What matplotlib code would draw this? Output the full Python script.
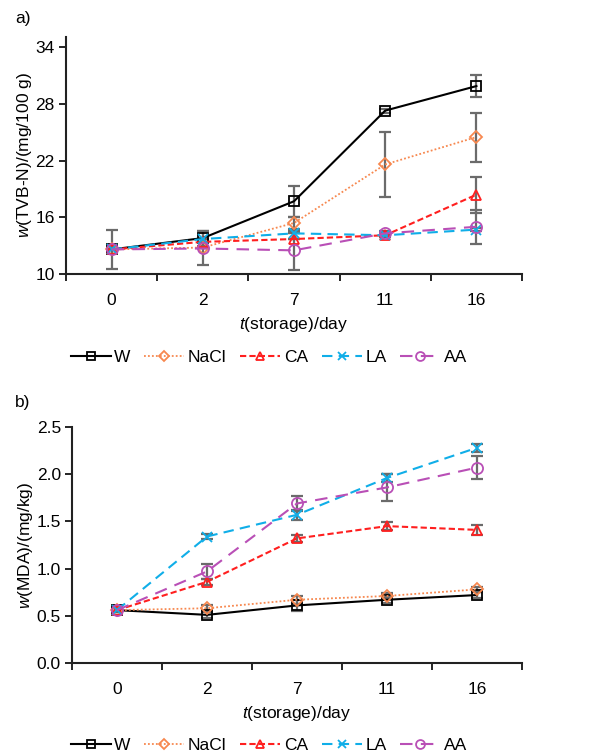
import matplotlib
matplotlib.use("Agg")
import matplotlib.pyplot as plt
import numpy as np

plt.rcParams['font.family'] = ['Liberation Sans', 'DejaVu Sans']
plt.rcParams['mathtext.fontset'] = 'custom'
plt.rcParams['mathtext.rm'] = 'Liberation Sans'
plt.rcParams['mathtext.it'] = 'Liberation Sans:italic'

days = ["0", "2", "7", "11", "16"]
series = ["W", "NaCl", "CA", "LA", "AA"]

# Panel a: TVB-N (mg/100 g)
tvb_W = [12.6, 13.8, 17.7, 27.3, 29.9]
tvb_NaCl = [12.6, 12.8, 15.4, 21.6, 24.5]
tvb_CA = [12.6, 13.4, 13.7, 14.1, 18.4]
tvb_LA = [12.6, 13.7, 14.3, 14.1, 14.7]
tvb_AA = [12.6, 12.7, 12.5, 14.3, 15.0]
tvb_W_err = [2.05, 0.8, 1.65, 0.2, 1.15]
tvb_NaCl_err = [0.0, 0.0, 0.6, 3.4, 2.6]
tvb_CA_err = [0.0, 0.0, 0.0, 0.2, 1.9]
tvb_LA_err = [0.0, 0.0, 0.0, 0.2, 0.2]
tvb_AA_err = [0.0, 1.8, 2.1, 0.2, 1.8]

# Panel b: MDA (mg/kg)
mda_W = [0.56, 0.51, 0.61, 0.67, 0.72]
mda_NaCl = [0.56, 0.58, 0.67, 0.71, 0.78]
mda_CA = [0.56, 0.86, 1.32, 1.45, 1.41]
mda_LA = [0.56, 1.34, 1.57, 1.96, 2.28]
mda_AA = [0.56, 0.97, 1.69, 1.86, 2.07]
mda_W_err = [0.02, 0.03, 0.06, 0.03, 0.03]
mda_NaCl_err = [0.02, 0.03, 0.04, 0.03, 0.03]
mda_CA_err = [0.02, 0.03, 0.04, 0.04, 0.05]
mda_LA_err = [0.02, 0.03, 0.05, 0.04, 0.04]
mda_AA_err = [0.02, 0.08, 0.08, 0.14, 0.12]

styles = {
    "W": dict(color="#000000", ls="-", marker="s", lw=1.5),
    "NaCl": dict(color="#F7884F", ls=(0, (1, 1.2)), marker="D", lw=1.3),
    "CA": dict(color="#FF1F1F", ls=(0, (3, 1.5)), marker="^", lw=1.5),
    "LA": dict(color="#10AEE8", ls=(0, (5, 3)), marker="x", lw=1.5),
    "AA": dict(color="#B94FB6", ls=(0, (6, 4)), marker="o", lw=1.5),
}
msizes = {"W": 7, "NaCl": 6, "CA": 7, "LA": 7, "AA": 8}
FS = 12.5

fig = plt.figure(figsize=(6.07, 7.56), dpi=100)
axa = fig.add_axes([0.1087, 0.6376, 0.7513, 0.3135])
axb = fig.add_axes([0.1186, 0.1230, 0.7414, 0.3122])

x = np.arange(len(days))

def draw(ax, data, errs, ylim, yticks, fmt, ylabel):
    handles = []
    for name, vals, e in zip(series, data, errs):
        st = styles[name]
        ax.errorbar(x, vals, yerr=e, fmt="none", ecolor="#6B6B6B",
                    elinewidth=1.6, capsize=4, capthick=1.6, zorder=2)
        h, = ax.plot(x, vals, color=st["color"], ls=st["ls"], lw=st["lw"],
                     marker=st["marker"], markersize=msizes[name],
                     markerfacecolor="none" if st["marker"] != "x" else st["color"],
                     markeredgecolor=st["color"], markeredgewidth=1.3,
                     label=name, zorder=3)
        handles.append(h)
    ax.set_xlim(-0.5, len(days) - 0.5)
    ax.set_ylim(*ylim)
    ax.set_yticks(yticks)
    ax.set_yticklabels([fmt.format(v) for v in yticks])
    ax.set_xticks(x)
    ax.set_xticklabels(days)
    ax.set_xticks(np.arange(-0.5, len(days)), minor=True)
    ax.tick_params(axis="x", which="major", length=0, pad=14, labelsize=FS)
    ax.tick_params(axis="x", which="minor", length=5, width=1.2, direction="out")
    ax.tick_params(axis="y", length=5, width=1.2, direction="out", labelsize=FS, pad=3)
    for s in ["top", "right"]:
        ax.spines[s].set_visible(False)
    for s in ["left", "bottom"]:
        ax.spines[s].set_linewidth(1.5)
        ax.spines[s].set_color("#222222")
    ax.set_xlabel(r"$\it{t}$(storage)/day", fontsize=FS, labelpad=5)
    ax.set_ylabel(ylabel, fontsize=FS, labelpad=1)
    return handles

ha = draw(axa, [tvb_W, tvb_NaCl, tvb_CA, tvb_LA, tvb_AA],
          [tvb_W_err, tvb_NaCl_err, tvb_CA_err, tvb_LA_err, tvb_AA_err],
          (10, 35.1), [10, 16, 22, 28, 34], "{:.0f}", r"$\it{w}$(TVB-N)/(mg/100 g)")
hb = draw(axb, [mda_W, mda_NaCl, mda_CA, mda_LA, mda_AA],
          [mda_W_err, mda_NaCl_err, mda_CA_err, mda_LA_err, mda_AA_err],
          (0, 2.5), [0.0, 0.5, 1.0, 1.5, 2.0, 2.5], "{:.1f}", r"$\it{w}$(MDA)/(mg/kg)")

for h, ypos in [(ha, 0.527), (hb, 0.014)]:
    fig.legend(handles=h, labels=series, loc="center", bbox_to_anchor=(0.443, ypos),
               ncol=5, frameon=False, fontsize=FS, handlelength=2.3,
               handletextpad=0.2, columnspacing=0.8, borderaxespad=0, markerscale=0.8)

fig.text(0.025, 0.975, "a)", fontsize=FS, va="center", ha="left")
fig.text(0.025, 0.467, "b)", fontsize=FS, va="center", ha="left")

fig.savefig("out.png", dpi=100)
